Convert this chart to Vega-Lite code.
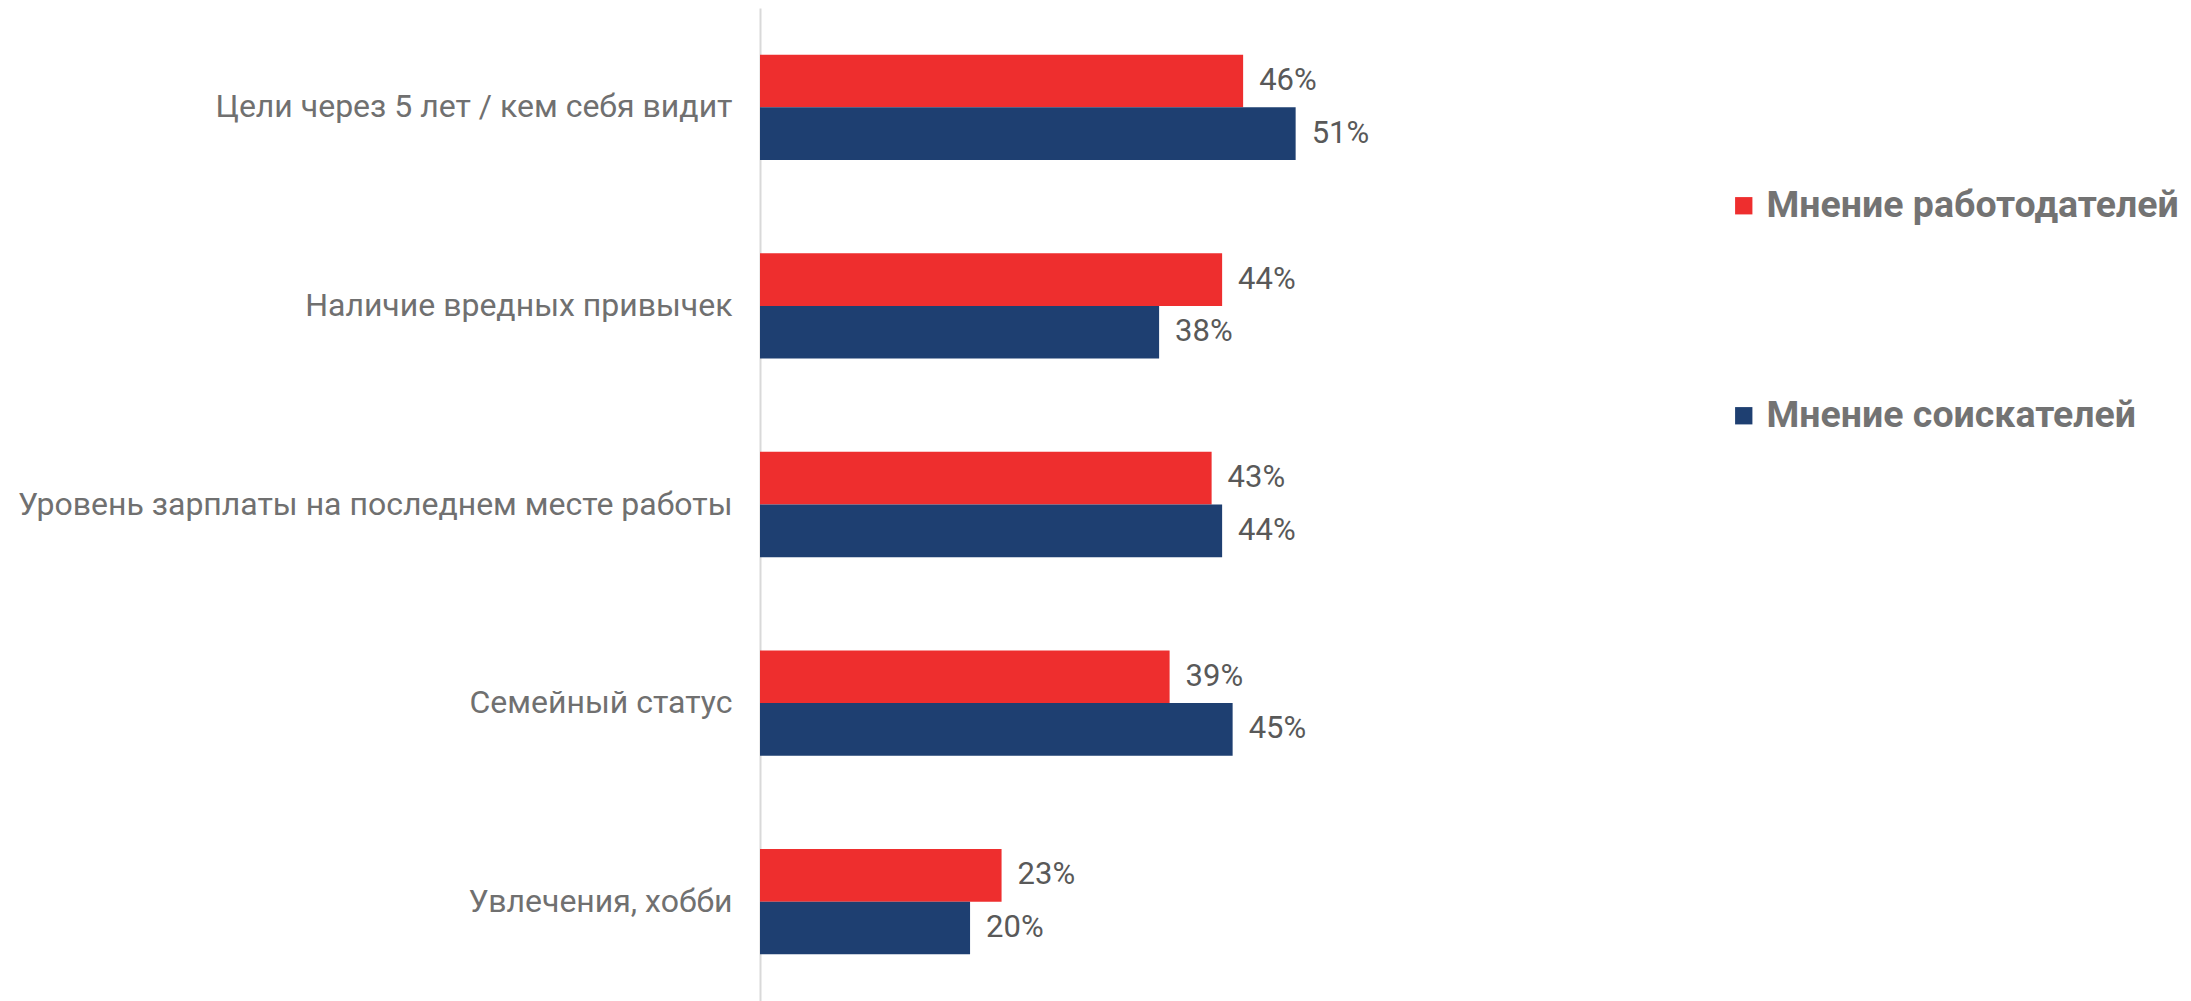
{
  "$schema": "https://vega.github.io/schema/vega-lite/v6.json",
  "autosize": {"type": "none"},
  "width": 940,
  "height": 993,
  "padding": {"left": 760, "top": 8, "right": 491, "bottom": 0},
  "background": "white",
  "config": {"view": {"stroke": null}, "font": "Roboto"},
  "data": {
    "values": [
      {"category": "Цели через 5 лет / кем себя видит", "series": "Мнение работодателей", "value": 0.46},
      {"category": "Цели через 5 лет / кем себя видит", "series": "Мнение соискателей", "value": 0.51},
      {"category": "Наличие вредных привычек", "series": "Мнение работодателей", "value": 0.44},
      {"category": "Наличие вредных привычек", "series": "Мнение соискателей", "value": 0.38},
      {"category": "Уровень зарплаты на последнем месте работы", "series": "Мнение работодателей", "value": 0.43},
      {"category": "Уровень зарплаты на последнем месте работы", "series": "Мнение соискателей", "value": 0.44},
      {"category": "Семейный статус", "series": "Мнение работодателей", "value": 0.39},
      {"category": "Семейный статус", "series": "Мнение соискателей", "value": 0.45},
      {"category": "Увлечения, хобби", "series": "Мнение работодателей", "value": 0.23},
      {"category": "Увлечения, хобби", "series": "Мнение соискателей", "value": 0.20}
    ]
  },
  "encoding": {
    "y": {
      "field": "category",
      "type": "nominal",
      "sort": null,
      "scale": {"paddingInner": 0.47, "paddingOuter": 0.235},
      "axis": {
        "title": null,
        "ticks": false,
        "grid": false,
        "domainColor": "#D9D9D9",
        "domainWidth": 2,
        "labelFont": "Roboto",
        "labelFontSize": 32,
        "labelColor": "#707070",
        "labelPadding": 28,
        "labelLimit": 800
      }
    },
    "yOffset": {
      "field": "series",
      "type": "nominal",
      "sort": ["Мнение работодателей", "Мнение соискателей"]
    },
    "x": {
      "field": "value",
      "type": "quantitative",
      "scale": {"domain": [0, 0.895], "nice": false},
      "axis": null
    }
  },
  "layer": [
    {
      "mark": {"type": "bar"},
      "encoding": {
        "color": {
          "field": "series",
          "type": "nominal",
          "scale": {
            "domain": ["Мнение работодателей", "Мнение соискателей"],
            "range": ["#EE2E2E", "#1E3F71"]
          },
          "legend": {
            "title": null,
            "orient": "none",
            "legendX": 965,
            "legendY": 179,
            "symbolType": "square",
            "symbolSize": 300,
            "symbolStrokeWidth": 0,
            "labelFont": "Roboto",
            "labelFontSize": 37.5,
            "labelFontWeight": "bold",
            "labelColor": "#737373",
            "labelOffset": 4,
            "rowPadding": 171,
            "labelLimit": 600
          }
        }
      }
    },
    {
      "mark": {
        "type": "text",
        "align": "left",
        "baseline": "middle",
        "dx": 16,
        "font": "Roboto",
        "fontSize": 31,
        "color": "#595959"
      },
      "encoding": {
        "text": {"field": "value", "type": "quantitative", "format": ".0%"}
      }
    }
  ]
}
